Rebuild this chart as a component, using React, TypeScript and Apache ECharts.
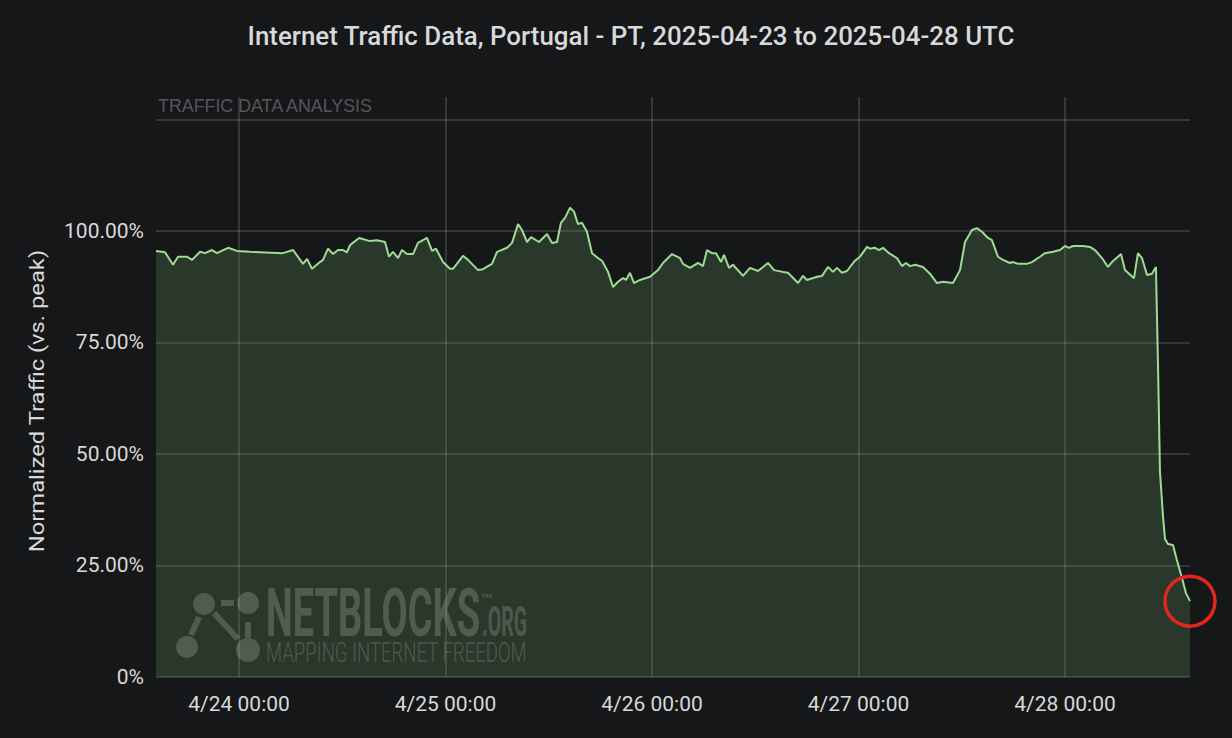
import React, { useEffect, useRef } from 'react';
import * as echarts from 'echarts';

const TITLE = 'Internet Traffic Data, Portugal - PT, 2025-04-23 to 2025-04-28 UTC';
const Y_NAME = 'Normalized Traffic (vs. peak)';
const PANEL_LABEL = 'TRAFFIC DATA ANALYSIS';
const WATERMARK_MAIN = 'NETBLOCKS';
const WATERMARK_TM = '™';
const WATERMARK_ORG = '.ORG';
const WATERMARK_SUB = 'MAPPING INTERNET FREEDOM';

const START_UTC = Date.UTC(2025, 3, 23, 0, 0);

// time of each sample, in hours since 2025-04-23 00:00 UTC
const hoursSinceApr23 = [
  14.35, 15.40, 16.33, 16.91, 17.96, 18.54, 19.47, 20.05, 20.86, 21.44,
  22.72, 23.77, 25.28, 29.11, 30.28, 31.44, 31.90, 32.48, 33.41, 33.76,
  34.34, 34.92, 35.51, 36.09, 36.55, 36.90, 37.95, 39.22, 40.04, 40.97,
  41.43, 41.90, 42.48, 42.94, 43.52, 44.22, 44.80, 45.85, 46.43, 46.90,
  47.71, 48.52, 48.87, 50.03, 50.61, 51.78, 52.36, 52.94, 53.40, 53.99,
  55.15, 55.73, 56.43, 56.89, 57.47, 57.94, 58.87, 59.80, 60.38, 60.96,
  61.42, 61.89, 62.47, 62.93, 63.40, 63.86, 64.44, 65.03, 65.72, 66.19,
  66.89, 67.47, 68.05, 68.63, 68.98, 69.44, 69.91, 70.60, 71.77, 72.70,
  73.28, 74.32, 75.25, 75.60, 76.42, 77.35, 77.93, 78.39, 78.97, 79.44,
  80.02, 80.37, 80.95, 81.41, 82.58, 83.39, 84.32, 85.48, 86.18, 87.22,
  87.81, 88.97, 89.55, 90.01, 91.18, 91.76, 92.45, 93.04, 93.50, 94.08,
  94.66, 95.59, 96.17, 96.99, 97.34, 97.92, 98.38, 98.85, 99.54, 100.47,
  101.05, 101.52, 101.98, 102.57, 103.49, 104.31, 105.12, 105.82, 106.98, 107.80,
  108.38, 109.19, 109.77, 110.35, 111.05, 111.51, 112.21, 112.79, 113.61, 113.95,
  114.54, 115.58, 116.16, 117.09, 117.67, 118.60, 119.42, 120.00, 120.46, 120.93,
  122.09, 122.90, 123.48, 124.30, 125.00, 125.46, 126.51, 126.97, 128.02, 128.48,
  128.95, 129.53, 130.11, 130.57, 130.81, 131.04, 131.39, 131.62, 131.97, 132.55,
  133.01, 133.60, 134.06, 134.53,
];

// normalized traffic, percent of peak
const trafficPct = [
  95.5, 95.2, 92.4, 94.2, 94.2, 93.5, 95.3, 95.0, 95.7, 95.0,
  96.2, 95.5, 95.3, 95.0, 95.7, 92.6, 93.7, 91.5, 93.0, 93.5,
  96.0, 94.8, 95.7, 95.7, 95.2, 96.8, 98.4, 97.7, 97.9, 97.5,
  94.2, 95.3, 93.9, 95.7, 94.8, 94.8, 97.3, 98.4, 95.5, 96.0,
  93.0, 91.5, 91.5, 94.4, 93.5, 91.2, 91.4, 92.1, 92.6, 95.3,
  96.2, 97.3, 101.5, 100.2, 97.5, 98.6, 97.5, 99.3, 97.3, 97.5,
  101.8, 102.9, 105.2, 104.3, 101.5, 101.8, 99.8, 95.0, 93.9, 93.3,
  90.8, 87.4, 88.6, 89.4, 89.0, 90.6, 88.3, 89.0, 89.7, 91.2,
  92.8, 94.8, 93.9, 92.6, 91.7, 92.8, 92.1, 95.7, 95.0, 95.0,
  93.0, 94.6, 91.7, 92.4, 89.9, 91.7, 91.0, 92.8, 91.2, 90.8,
  90.6, 88.3, 89.9, 89.0, 89.7, 89.9, 91.9, 90.8, 91.7, 90.6,
  91.0, 93.3, 94.2, 96.4, 96.0, 96.2, 95.7, 96.2, 95.0, 93.9,
  92.1, 92.8, 92.1, 92.4, 91.9, 90.4, 88.3, 88.6, 88.3, 91.2,
  97.5, 100.2, 100.6, 99.8, 98.4, 97.9, 94.2, 93.5, 92.8, 93.0,
  92.6, 92.6, 93.0, 94.2, 95.0, 95.3, 95.7, 96.6, 96.2, 96.6,
  96.6, 96.4, 95.7, 93.9, 91.9, 93.0, 94.8, 91.2, 89.4, 95.0,
  93.9, 90.1, 90.4, 91.9, 70.0, 46.0, 36.0, 31.0, 29.8, 29.6,
  26.2, 22.2, 18.8, 17.0,
];

const Y_MIN = 0;
const Y_MAX = 130;
const Y_INTERVAL = 25;
const DAY_MS = 24 * 3600 * 1000;

const BG = '#161719';
const TEXT = '#d8d9da';
const GRID_LINE = 'rgba(255,255,255,0.19)';
const WM = 'rgba(255,255,255,0.21)';

function measure(text: string, font: string): number {
  const c = document.createElement('canvas');
  const ctx = c.getContext('2d');
  if (!ctx) return text.length * 10;
  ctx.font = font;
  return ctx.measureText(text).width;
}

function fitText(
  text: string,
  x: number,
  y: number,
  targetW: number,
  size: number,
  weight: string | number,
  family: string,
  fill: string,
  align: string = 'left',
  rotation: number = 0
) {
  const w = measure(text, `${weight} ${size}px ${family}`);
  return {
    type: 'text',
    x,
    y,
    rotation,
    scaleX: targetW / w,
    silent: true,
    style: {
      text,
      fill,
      fontSize: size,
      fontWeight: weight,
      fontFamily: family,
      align,
      textAlign: align,
      verticalAlign: 'middle',
      textVerticalAlign: 'middle',
    },
  };
}

function pad(n: number) {
  return n < 10 ? '0' + n : '' + n;
}

export default function App() {
  const ref = useRef<HTMLDivElement>(null);

  useEffect(() => {
    if (!ref.current) return;
    const chart = echarts.init(ref.current, null, { renderer: 'svg' });
    const data = hoursSinceApr23.map((h, i) => [START_UTC + h * 3600 * 1000, trafficPct[i]]);

    chart.setOption({
      animation: false,
      useUTC: true,
      backgroundColor: BG,
      grid: { left: 156, right: 42, top: 97, bottom: 61, containLabel: false },
      xAxis: {
        type: 'time',
        min: 'dataMin',
        max: 'dataMax',
        minInterval: DAY_MS,
        maxInterval: DAY_MS,
        axisLine: { show: false },
        axisTick: { show: false },
        axisLabel: {
          color: TEXT,
          fontSize: 21,
          fontFamily: 'Roboto',
          margin: 16,
          showMinLabel: false,
          showMaxLabel: false,
          formatter: (v: number) => {
            const d = new Date(v);
            return `${d.getUTCMonth() + 1}/${d.getUTCDate()} ${pad(d.getUTCHours())}:${pad(d.getUTCMinutes())}`;
          },
        },
        splitLine: {
          show: true,
          showMinLine: false,
          showMaxLine: false,
          lineStyle: { color: GRID_LINE, width: 1.5 },
        },
      },
      yAxis: {
        type: 'value',
        min: Y_MIN,
        max: Y_MAX,
        interval: Y_INTERVAL,
        axisLine: { show: false },
        axisTick: { show: false },
        axisLabel: {
          color: TEXT,
          fontSize: 21,
          fontFamily: 'Roboto',
          margin: 12,
          formatter: (v: number) => (v === 0 ? '0%' : v > 100 ? '' : v.toFixed(2) + '%'),
        },
        splitLine: {
          show: true,
          showMinLine: true,
          showMaxLine: false,
          lineStyle: { color: GRID_LINE, width: 1.5 },
        },
      },
      series: [
        {
          type: 'line',
          data,
          showSymbol: false,
          symbol: 'none',
          lineStyle: { color: '#9ddc92', width: 2 },
          itemStyle: { color: '#9ddc92' },
          areaStyle: { color: 'rgba(110,160,100,0.34)' },
          z: 3,
        },
      ],
    });

    const last = data[data.length - 1];
    const px = chart.convertToPixel({ seriesIndex: 0 }, last) as number[];

    const graphics: any[] = [
      fitText(TITLE, 631, 36, 768, 26, 500, 'Roboto', TEXT, 'center'),
      fitText(Y_NAME, 37, 401, 303, 21, 'normal', 'Roboto', TEXT, 'center', Math.PI / 2),
      fitText(PANEL_LABEL, 158, 105, 216, 19, 'normal', 'Liberation Sans', '#55565a', 'left'),
      // watermark icon
      { type: 'line', silent: true, shape: { x1: 221, y1: 603, x2: 234, y2: 603 }, style: { stroke: WM, lineWidth: 6 } },
      { type: 'line', silent: true, shape: { x1: 199, y1: 617, x2: 191, y2: 635 }, style: { stroke: WM, lineWidth: 6 } },
      { type: 'line', silent: true, shape: { x1: 214, y1: 613, x2: 238, y2: 639 }, style: { stroke: WM, lineWidth: 6 } },
      { type: 'line', silent: true, shape: { x1: 248, y1: 622, x2: 248, y2: 638 }, style: { stroke: WM, lineWidth: 6 } },
      { type: 'circle', silent: true, shape: { cx: 204, cy: 604, r: 11 }, style: { fill: WM } },
      { type: 'circle', silent: true, shape: { cx: 248, cy: 603, r: 11 }, style: { fill: WM } },
      { type: 'circle', silent: true, shape: { cx: 187, cy: 647, r: 11 }, style: { fill: WM } },
      { type: 'circle', silent: true, shape: { cx: 248, cy: 650, r: 12 }, style: { fill: WM } },
      fitText(WATERMARK_MAIN, 266, 613.5, 214, 66, 'bold', 'Roboto', WM, 'left'),
      fitText(WATERMARK_TM, 480, 599, 13, 14, 'bold', 'Roboto', WM, 'left'),
      fitText(WATERMARK_ORG, 482, 622, 45, 42, 'bold', 'Roboto', WM, 'left'),
      fitText(WATERMARK_SUB, 266, 653, 261, 28, 300, 'Roboto', WM, 'left'),
      // annotation ring around the latest reading
      {
        type: 'circle',
        silent: true,
        z: 100,
        shape: { cx: px[0], cy: px[1], r: 25 },
        style: { fill: 'none', stroke: '#e3261c', lineWidth: 3.5 },
      },
    ];
    chart.setOption({ graphic: { elements: graphics } });

    return () => chart.dispose();
  }, []);

  return (
    <div
      ref={ref}
      style={{ position: 'fixed', left: 0, top: 0, width: 1232, height: 738, background: BG }}
    />
  );
}
